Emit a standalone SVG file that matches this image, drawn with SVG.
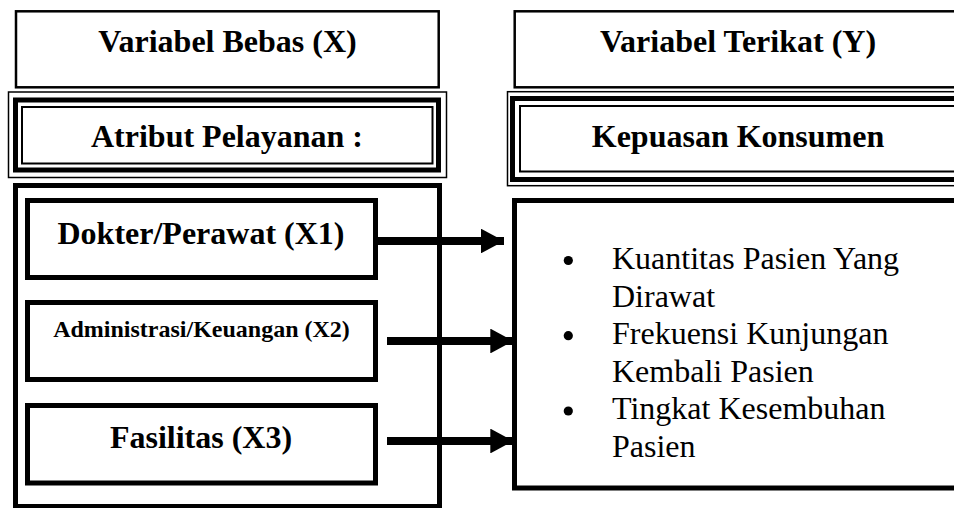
<svg xmlns="http://www.w3.org/2000/svg" width="954" height="508" viewBox="0 0 954 508">
<style>
.b{fill:none;stroke:#000}
.t{font-family:"Liberation Serif","Times New Roman",serif;fill:#000}
.h{font-weight:bold;font-size:32px;text-anchor:middle}
.s{font-weight:bold;font-size:24px;text-anchor:middle}
.l{font-size:32px}
</style>
<defs>
<marker id="ah" markerWidth="3" markerHeight="3.1" refX="2.9" refY="1.55" orient="auto" markerUnits="strokeWidth">
<path d="M0,0 L2.9,1.55 L0,3.1 Z" fill="#000"/>
</marker>
</defs>
<rect width="954" height="508" fill="#fff"/>
<g id="header-x">
<rect class="b" x="16" y="11.3" width="422.7" height="76" stroke-width="2.5"/>
<text class="t h" x="227.5" y="52">Variabel Bebas (X)</text>
</g>
<g id="header-y">
<rect class="b" x="514.7" y="11.3" width="460" height="76" stroke-width="2.5"/>
<text class="t h" x="738" y="52">Variabel Terikat (Y)</text>
</g>
<g id="atribut">
<rect class="b" x="8.5" y="92" width="438" height="85.5" stroke-width="1.5"/>
<rect class="b" x="15.5" y="100" width="423" height="70" stroke-width="5"/>
<rect class="b" x="22" y="107" width="410.5" height="56.5" stroke-width="2"/>
<text class="t h" x="227" y="147">Atribut Pelayanan :</text>
</g>
<g id="kepuasan">
<rect class="b" x="507.5" y="91.7" width="470" height="94" stroke-width="1.5"/>
<rect class="b" x="512.5" y="98.5" width="470" height="81" stroke-width="5"/>
<rect class="b" x="520" y="106" width="470" height="65.5" stroke-width="2"/>
<text class="t h" x="738" y="147">Kepuasan Konsumen</text>
</g>
<g id="container-x">
<rect class="b" x="15.5" y="185.5" width="424" height="321" stroke-width="5"/>
</g>
<g id="x1">
<rect class="b" x="27.5" y="200.5" width="348" height="77" stroke-width="5"/>
<text class="t h" x="201" y="244">Dokter/Perawat (X1)</text>
</g>
<g id="x2">
<rect class="b" x="27.5" y="302.5" width="348" height="77" stroke-width="5"/>
<text class="t s" x="201.5" y="337">Administrasi/Keuangan (X2)</text>
</g>
<g id="x3">
<rect class="b" x="27.5" y="405.5" width="348" height="77.5" stroke-width="5"/>
<text class="t h" x="201" y="448">Fasilitas (X3)</text>
</g>
<g id="indikator-y">
<rect class="b" x="514.5" y="200.5" width="470" height="287.5" stroke-width="5"/>
<circle cx="568.3" cy="260.5" r="4.6" fill="#000"/>
<circle cx="568.3" cy="335.7" r="4.6" fill="#000"/>
<circle cx="568.3" cy="411" r="4.6" fill="#000"/>
<text class="t l" x="612" y="269">Kuantitas Pasien Yang</text>
<text class="t l" x="612" y="306.6">Dirawat</text>
<text class="t l" x="612" y="344.2">Frekuensi Kunjungan</text>
<text class="t l" x="612" y="381.8">Kembali Pasien</text>
<text class="t l" x="612" y="419.4">Tingkat Kesembuhan</text>
<text class="t l" x="612" y="457">Pasien</text>
</g>
<g id="connectors" stroke="#000" stroke-width="8" fill="none">
<line x1="378" y1="241" x2="504" y2="241" marker-end="url(#ah)"/>
<line x1="387" y1="341" x2="513.5" y2="341" marker-end="url(#ah)"/>
<line x1="387" y1="441" x2="513.5" y2="441" marker-end="url(#ah)"/>
</g>
</svg>
